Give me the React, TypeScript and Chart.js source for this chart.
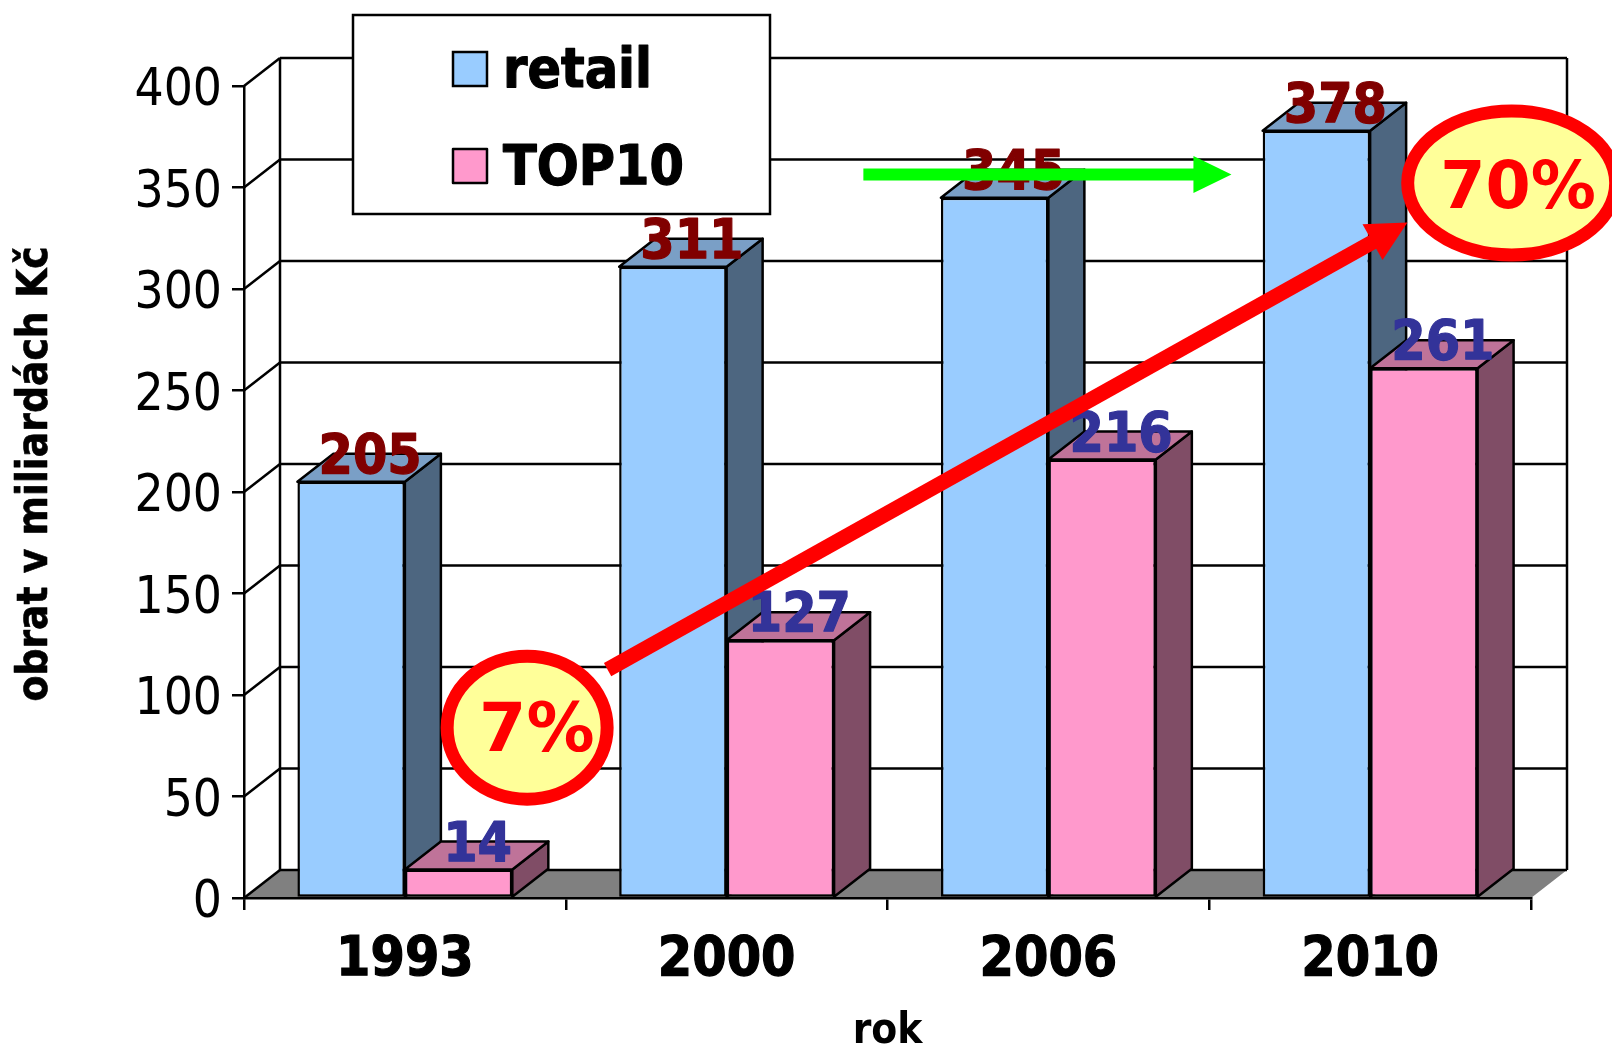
import React, { useEffect, useRef } from "react";
import { Chart, registerables } from "chart.js";

Chart.register(...registerables);

const categories = ["1993", "2000", "2006", "2010"];
const retail = [205, 311, 345, 378];
const top10 = [14, 127, 216, 261];
const retailLabels = ["205", "311", "345", "378"];
const top10Labels = ["14", "127", "216", "261"];
const yTicksStep = 50;
const yMax = 400;

const BOLD = '"DejaVu Sans Condensed", "DejaVu Sans", sans-serif';
const WIDE = '"DejaVu Sans", sans-serif';
const DX = 36;
const DY = 28;
const LW = 2.5;
const RETAIL = { front: "#99CCFF", top: "#7A9FC6", side: "#4D6680", text: "#800000" };
const PINK = { front: "#FF99CC", top: "#BF7399", side: "#804D66", text: "#333399" };

// overlays, in axis units (category position 0..4, value)
const greenArrow = { from: [1.925, 356.4], to: [3.069, 356.4] };
const redArrow = { from: [1.13, 112.5], to: [3.616, 332.7] };
const bubbles = [
  { text: "7%", size: 68, c: [0.88, 83.9], rx: 80, ry: 71.5, tc: [0.91, 83.9], dy: 6 },
  { text: "70%", size: 65, c: [3.94, 352.2], rx: 104, ry: 72, tc: [3.96, 352], dy: 8 },
];

function poly(ctx: CanvasRenderingContext2D, pts: number[][], fill?: string, stroke = true) {
  ctx.beginPath();
  pts.forEach((p, i) => (i ? ctx.lineTo(p[0], p[1]) : ctx.moveTo(p[0], p[1])));
  ctx.closePath();
  if (fill) { ctx.fillStyle = fill; ctx.fill(); }
  if (stroke) { ctx.lineWidth = LW; ctx.strokeStyle = "#000"; ctx.lineJoin = "round"; ctx.stroke(); }
}

function line(ctx: CanvasRenderingContext2D, x1: number, y1: number, x2: number, y2: number) {
  ctx.beginPath();
  ctx.moveTo(x1, y1);
  ctx.lineTo(x2, y2);
  ctx.lineWidth = LW;
  ctx.strokeStyle = "#000";
  ctx.stroke();
}

function heavyText(ctx: CanvasRenderingContext2D, s: string, x: number, y: number, color: string, w = 1.2) {
  ctx.fillStyle = color;
  ctx.strokeStyle = color;
  ctx.lineWidth = w;
  ctx.lineJoin = "round";
  ctx.strokeText(s, x, y);
  ctx.fillText(s, x, y);
}

function arrow(ctx: CanvasRenderingContext2D, a: number[], b: number[], color: string, w: number, headLen: number, headW: number) {
  const ang = Math.atan2(b[1] - a[1], b[0] - a[0]);
  const len = Math.hypot(b[0] - a[0], b[1] - a[1]);
  ctx.save();
  ctx.translate(a[0], a[1]);
  ctx.rotate(ang);
  ctx.fillStyle = color;
  ctx.fillRect(0, -w / 2, len - headLen + 1, w);
  ctx.beginPath();
  ctx.moveTo(len, 0);
  ctx.lineTo(len - headLen, -headW / 2);
  ctx.lineTo(len - headLen, headW / 2);
  ctx.closePath();
  ctx.fill();
  ctx.restore();
}

const scene = {
  id: "scene3d",
  beforeDraw(chart: any) {
    const { ctx, scales } = chart;
    const { x, y } = scales;
    const L = x.left, R = x.right, B = y.bottom;
    // nudge the y tick labels so that the digits, not the em box, centre on the tick
    y.getLabelItems(chart.chartArea).forEach((it: any) => {
      if (!it.__nudged) { it.textOffset += 6; it.__nudged = true; }
    });
    ctx.save();
    poly(ctx, [[L, B], [L + DX, B - DY], [R + DX, B - DY], [R, B]], "#808080", false);
    line(ctx, L + DX, B - DY, R + DX, B - DY);
    line(ctx, L, B, L + DX, B - DY);
    for (let v = yTicksStep; v <= yMax; v += yTicksStep) {
      const p = y.getPixelForValue(v);
      line(ctx, L, p, L + DX, p - DY);
      line(ctx, L + DX, p - DY, R + DX, p - DY);
    }
    line(ctx, L + DX, y.top - DY, L + DX, B - DY);
    line(ctx, R + DX, y.top - DY, R + DX, B - DY);
    ctx.restore();
  },
  beforeDatasetsDraw(chart: any) {
    const { ctx } = chart;
    ctx.save();
    [RETAIL, PINK].forEach((c, di) => {
      chart.getDatasetMeta(di).data.forEach((el: any) => {
        const l = el.x - el.width / 2, r = el.x + el.width / 2;
        poly(ctx, [[r, el.base], [r + DX, el.base - DY], [r + DX, el.y - DY], [r, el.y]], c.side);
        poly(ctx, [[l, el.y], [l + DX, el.y - DY], [r + DX, el.y - DY], [r, el.y]], c.top);
      });
    });
    ctx.restore();
  },
  afterDatasetsDraw(chart: any) {
    const { ctx, scales } = chart;
    const { x, y } = scales;
    const X = (u: number) => x.left + (u * (x.right - x.left)) / categories.length;
    const Y = (v: number) => y.getPixelForValue(v);
    ctx.save();

    // legend
    ctx.fillStyle = "#fff";
    ctx.fillRect(353, 15, 417, 199);
    ctx.lineWidth = LW;
    ctx.strokeStyle = "#000";
    ctx.strokeRect(353, 15, 417, 199);
    chart.data.datasets.forEach((ds: any, i: number) => {
      const cy = i === 0 ? 69 : 166;
      ctx.fillStyle = ds.backgroundColor;
      ctx.fillRect(453, cy - 17, 34, 34);
      ctx.lineWidth = LW;
      ctx.strokeStyle = "#000";
      ctx.strokeRect(453, cy - 17, 34, 34);
      ctx.font = `bold 55px ${BOLD}`;
      ctx.textAlign = "left";
      ctx.textBaseline = "middle";
      heavyText(ctx, ds.label, 503, cy + 4, "#000");
    });

    // value labels
    ctx.textAlign = "center";
    ctx.textBaseline = "middle";
    ctx.font = `bold 55px ${BOLD}`;
    [retailLabels, top10Labels].forEach((labels, di) => {
      const color = di === 0 ? RETAIL.text : PINK.text;
      chart.getDatasetMeta(di).data.forEach((el: any, i: number) => {
        heavyText(ctx, labels[i], el.x + 19, el.y - 23, color);
      });
    });

    // y axis title
    ctx.save();
    ctx.translate(36, 474);
    ctx.rotate(-Math.PI / 2);
    ctx.font = `bold 42px ${BOLD}`;
    heavyText(ctx, "obrat v miliardách Kč", 0, 0, "#000", 0.6);
    ctx.restore();

    // overlays
    arrow(ctx, [X(greenArrow.from[0]), Y(greenArrow.from[1])], [X(greenArrow.to[0]), Y(greenArrow.to[1])], "#00FF00", 12, 38, 37);
    arrow(ctx, [X(redArrow.from[0]), Y(redArrow.from[1])], [X(redArrow.to[0]), Y(redArrow.to[1])], "#FF0000", 15, 40, 41);
    bubbles.forEach((b) => {
      ctx.beginPath();
      ctx.ellipse(X(b.c[0]), Y(b.c[1]), b.rx, b.ry, 0, 0, Math.PI * 2);
      ctx.fillStyle = "#FFFF99";
      ctx.fill();
      ctx.lineWidth = 13;
      ctx.strokeStyle = "#FF0000";
      ctx.stroke();
      ctx.fillStyle = "#FF0000";
      ctx.font = `bold ${b.size}px ${WIDE}`;
      ctx.fillText(b.text, X(b.tc[0]), Y(b.tc[1]) + b.dy);
    });
    ctx.restore();
  },
};

export default function App() {
  const ref = useRef<HTMLCanvasElement>(null);
  useEffect(() => {
    const chart = new Chart(ref.current!, {
      type: "bar",
      data: {
        labels: categories,
        datasets: [
          { label: "retail", data: retail, backgroundColor: RETAIL.front, borderColor: "#000", borderWidth: LW, borderSkipped: false, categoryPercentage: 0.668, barPercentage: 1 },
          { label: "TOP10", data: top10, backgroundColor: PINK.front, borderColor: "#000", borderWidth: LW, borderSkipped: false, categoryPercentage: 0.668, barPercentage: 1 },
        ],
      },
      options: {
        responsive: false,
        animation: false,
        layout: { autoPadding: false, padding: { left: 0, right: 81, top: 86, bottom: 0 } },
        plugins: { legend: { display: false }, title: { display: false }, tooltip: { enabled: false } },
        scales: {
          x: {
            afterFit: (s: any) => { s.height = 149; },
            grid: { drawOnChartArea: false, color: "#000", lineWidth: LW, tickLength: 12, tickWidth: LW, tickColor: "#000", offset: true },
            border: { color: "#000", width: LW },
            ticks: { color: "#000", padding: 18, maxRotation: 0, textStrokeColor: "#000", textStrokeWidth: 1.2, font: { family: BOLD, weight: "bold", size: 55 } },
            title: { display: true, text: "rok", color: "#000", padding: { top: 0, bottom: -6 }, font: { family: BOLD, weight: "bold", size: 42, lineHeight: 1 } },
          },
          y: {
            min: 0,
            max: yMax,
            afterFit: (s: any) => { s.width = 244; },
            grid: { drawOnChartArea: false, color: "#000", lineWidth: LW, tickLength: 12, tickWidth: LW, tickColor: "#000" },
            border: { color: "#000", width: LW },
            ticks: { stepSize: yTicksStep, color: "#000", padding: 10, font: { family: BOLD, size: 51 } },
          },
        },
      },
      plugins: [scene],
    } as any);
    return () => chart.destroy();
  }, []);
  return (
    <div style={{ position: "fixed", left: 0, top: 0, width: 1612, height: 1047, background: "#fff" }}>
      <canvas ref={ref} width={1612} height={1047} style={{ display: "block" }} />
    </div>
  );
}
